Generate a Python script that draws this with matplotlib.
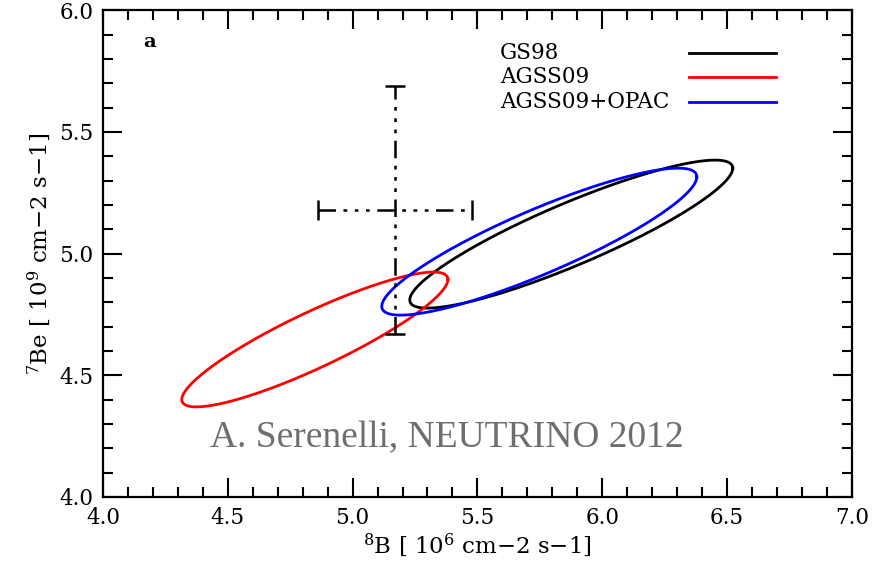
import numpy as np
import matplotlib
matplotlib.use("Agg")
import matplotlib.pyplot as plt
from matplotlib.ticker import MultipleLocator, FormatStrFormatter

plt.rcParams["font.family"] = ["DejaVu Serif"]
plt.rcParams["mathtext.fontset"] = "dejavuserif"

# solar model confidence ellipses: center, half widths, correlation
models = ["GS98", "AGSS09", "AGSS09+OPAC"]
colors = ["black", "red", "blue"]
center_b8 = [5.876, 4.849, 5.748]
center_be7 = [5.080, 4.647, 5.049]
half_b8 = [0.647, 0.533, 0.631]
half_be7 = [0.304, 0.277, 0.302]
corr = [0.89, 0.89, 0.88]

# measured fluxes with error bars
meas_b8 = 5.17
meas_be7 = 5.18
err_b8 = 0.31
err_be7 = 0.51

fig = plt.figure(figsize=(8.8, 5.66), dpi=100)
ax = fig.add_axes([0.117, 0.122, 0.851, 0.860])

t = np.linspace(0, 2 * np.pi, 400)
for name, c, cx, cy, sx, sy, r in zip(models, colors, center_b8, center_be7,
                                       half_b8, half_be7, corr):
    d = np.arccos(r)
    ax.plot(cx + sx * np.cos(t), cy + sy * np.cos(t - d), color=c, lw=2.0)

dash3 = (0, (7, 3, 1.5, 3, 1.5, 3, 1.5, 3))
eb = ax.errorbar(meas_b8, meas_be7, xerr=err_b8, yerr=err_be7, fmt="none",
                 ecolor="black", elinewidth=1.8, capsize=7, capthick=1.8)
for lc in eb[2]:
    lc.set_linestyle(dash3)

ax.set_xlim(4.0, 7.0)
ax.set_ylim(4.0, 6.0)
ax.xaxis.set_major_locator(MultipleLocator(0.5))
ax.xaxis.set_minor_locator(MultipleLocator(0.1))
ax.yaxis.set_major_locator(MultipleLocator(0.5))
ax.yaxis.set_minor_locator(MultipleLocator(0.1))
ax.xaxis.set_major_formatter(FormatStrFormatter("%.1f"))
ax.yaxis.set_major_formatter(FormatStrFormatter("%.1f"))
ax.tick_params(which="both", direction="in", top=True, right=True, width=1.5,
               labelsize=15.5)
ax.tick_params(which="major", length=14, pad=7)
ax.tick_params(which="minor", length=7)
for s in ax.spines.values():
    s.set_linewidth(1.6)

ax.set_xlabel(r"$^{8}$B [ 10$^{6}$ cm$-$2 s$-$1]", fontsize=16.5, labelpad=2)
ax.set_ylabel(r"$^{7}$Be [ 10$^{9}$ cm$-$2 s$-$1]", fontsize=16.5, labelpad=4)

ax.text(0.054, 0.934, "a", transform=ax.transAxes, fontsize=14,
        fontweight="bold", va="center")

# legend: labels left aligned, sample lines to the right
leg_y = [0.913, 0.862, 0.812]
for name, c, yy in zip(models, colors, leg_y):
    ax.text(0.53, yy, name, transform=ax.transAxes, fontsize=15.5, va="center")
    ax.plot([0.783, 0.899], [yy, yy], transform=ax.transAxes, color=c, lw=2.0)

fig.text(0.508, 0.21, "A. Serenelli, NEUTRINO 2012", fontsize=27,
         family=["Liberation Serif", "DejaVu Serif"], color="#6e6e6e",
         ha="center", va="baseline")

fig.savefig("out.png", dpi=100)
